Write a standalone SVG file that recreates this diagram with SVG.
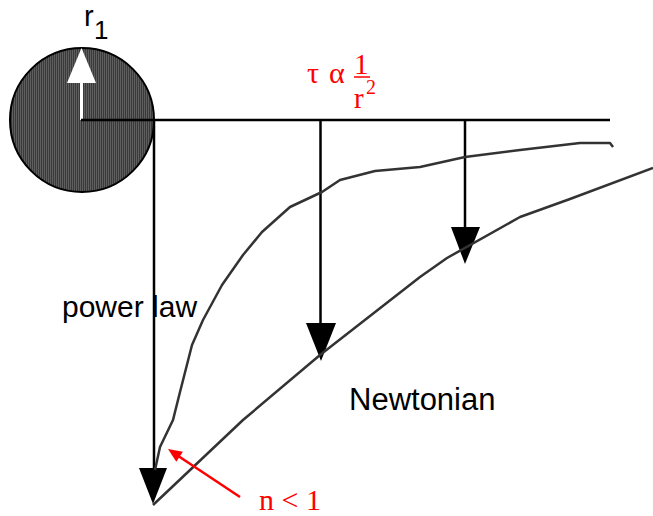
<svg xmlns="http://www.w3.org/2000/svg" width="653" height="516" viewBox="0 0 653 516">
<defs>
<pattern id="hatch" width="2" height="4" patternUnits="userSpaceOnUse">
<rect width="2" height="4" fill="#3a3a3a"/>
<rect width="1" height="4" fill="#5e5e5e"/>
</pattern>
</defs>
<style>
.ln{stroke:#000;stroke-width:2.5;fill:none}
.cv{stroke:#333;stroke-width:2.5;fill:none;stroke-linejoin:round}
.hd{fill:#000;stroke:none}
.lbl{font-family:"Liberation Sans",Arial,sans-serif;fill:#000}
.red{font-family:"Liberation Serif","Times New Roman",serif;fill:#f00}
</style>
<rect width="653" height="516" fill="#fff"/>
<g id="disk">
<circle cx="82" cy="120" r="72" fill="url(#hatch)" stroke="#000" stroke-width="2"/>
<line x1="81.5" y1="120" x2="81.5" y2="80" stroke="#fff" stroke-width="3"/>
<polygon points="81.5,48 67,83 96,83" fill="#fff"/>
<text class="lbl" x="84" y="26" font-size="29">r</text>
<text class="lbl" x="94" y="39" font-size="26">1</text>
</g>
<g id="connectors">
<line class="ln" x1="81" y1="120" x2="610" y2="120"/>
<line class="ln" x1="154" y1="120" x2="154" y2="470"/>
<polygon class="hd" points="139,468 167,468 153,504"/>
<line class="ln" x1="320.5" y1="120" x2="320.5" y2="325"/>
<polygon class="hd" points="306,323 336,323 321,361"/>
<line class="ln" x1="465" y1="120" x2="465" y2="229"/>
<polygon class="hd" points="451,227 480,227 465,264"/>
<path class="cv" d="M155,470 L160,447 L173,420 L180,392 L192,345 L203,320 L222,285 L243,255 L262,232 L290,207 L322,192 L340,180 L375,171 L420,167 L465,157 L520,150 L580,143 L610,143 L613,147"/>
<path class="cv" d="M153,505 L243,420 L320,355 L420,277 L447,258 L520,217 L570,199 L653,168"/>
<line x1="240" y1="497" x2="176" y2="454.5" stroke="#f00" stroke-width="2.5"/>
<polygon points="168,449 182.9,451.8 176.3,461.8" fill="#f00"/>
</g>
<g id="labels">
<text class="lbl" x="62" y="317" font-size="30">power law</text>
<text class="lbl" x="349" y="410" font-size="31">Newtonian</text>
<text class="red" x="307" y="83" font-size="30">τ</text>
<text class="red" x="329" y="83" font-size="30">α</text>
<text class="red" x="354" y="74" font-size="29">1</text>
<line x1="354" y1="77" x2="370" y2="77" stroke="#f00" stroke-width="1.5"/>
<text class="red" x="354" y="108" font-size="29">r</text>
<text class="red" x="366" y="94" font-size="20">2</text>
<text class="red" x="259" y="510" font-size="30">n &lt; 1</text>
</g>
</svg>
